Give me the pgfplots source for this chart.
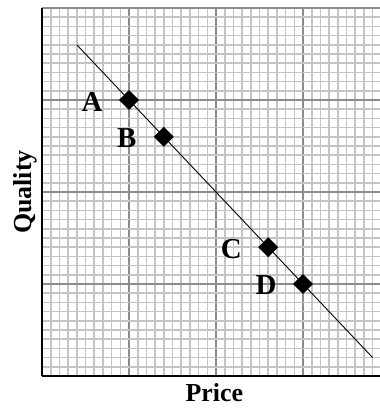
\documentclass[border=0pt]{standalone}
\usepackage{fontspec}
\setmainfont{Liberation Serif}
\usepackage{pgfplots}
\pgfplotsset{compat=1.18}
\definecolor{minorgrid}{HTML}{C4C4C4}
\definecolor{majorgrid}{HTML}{8C8C8C}
\begin{document}
\begin{tikzpicture}
\begin{axis}[
  at={(42bp,34bp)}, anchor=south west,
  scale only axis, width=338bp, height=368bp,
  xmin=0, xmax=38.85, ymin=0, ymax=40,
  axis lines=left,
  axis line style={-, line width=2.6bp, black},
  xtick={0,10,20,30}, ytick={0,10,20,30,40},
  minor xtick={1,...,9,11,12,...,19,21,22,...,29,31,32,...,38},
  minor ytick={1,...,9,11,12,...,19,21,22,...,29,31,32,...,39},
  xticklabels={}, yticklabels={},
  major tick length=0pt, minor tick length=0pt,
  grid=both,
  minor grid style={draw=minorgrid, line width=1.6bp},
  major grid style={draw=majorgrid, line width=1.5bp},
  xlabel={\bfseries Price},
  ylabel={\bfseries Quality},
  xlabel style={at={(rel axis cs:0.51,-0.068)}, anchor=base, font=\fontsize{26}{28}\selectfont},
  ylabel style={at={(rel axis cs:-0.0296,0.5)}, anchor=base, font=\fontsize{26}{28}\selectfont},
  clip=false,
]
\addplot[black, line width=0.9bp] coordinates {(4,36) (38,2)};
\addplot[only marks, mark=square*, mark size=6.8bp,
  mark options={fill=black, draw=black, line width=0.5bp, rotate=45},
  nodes near coords, point meta=explicit symbolic,
  nodes near coords style={anchor=center, xshift=-37bp, yshift=-1.5bp,
    font=\fontsize{29}{30}\selectfont\bfseries, text=black}]
  table[x=x, y=y, meta=label] {
x y label
10 30 A
14 26 B
26 14 C
30 10 D
};
\end{axis}
\pgfresetboundingbox
\path[use as bounding box] (0,0) rectangle (380bp,410bp);
\end{tikzpicture}
\end{document}
